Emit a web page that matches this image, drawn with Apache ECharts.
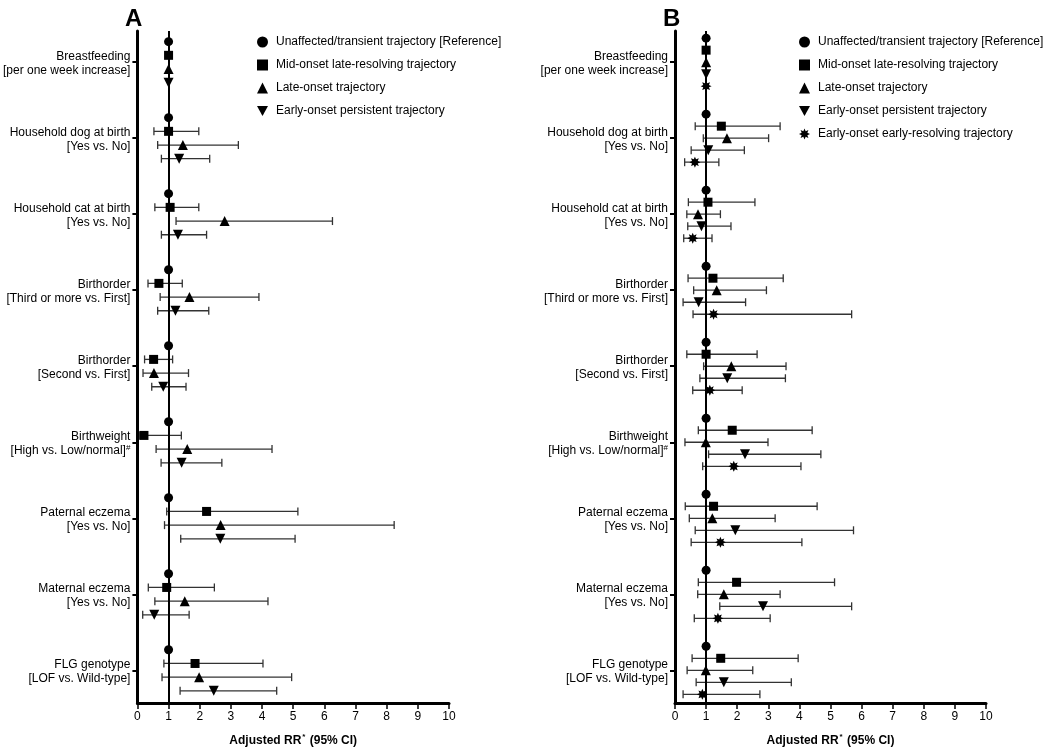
<!DOCTYPE html>
<html>
<head>
<meta charset="utf-8">
<script src="https://cdn.jsdelivr.net/npm/echarts@6/dist/echarts.min.js"></script>
<style>html,body{margin:0;padding:0;background:#fff}#main{width:1050px;height:752px}</style>
</head>
<body>
<div id="main"></div>
<script>
// exposure groups (top to bottom)
var groupTitle = ['Breastfeeding', 'Household dog at birth', 'Household cat at birth', 'Birthorder',
    'Birthorder', 'Birthweight', 'Paternal eczema', 'Maternal eczema', 'FLG genotype'];
var groupContrast = ['[per one week increase]', '[Yes vs. No]', '[Yes vs. No]', '[Third or more vs. First]',
    '[Second vs. First]', '[High vs. Low/normal]', '[Yes vs. No]', '[Yes vs. No]', '[LOF vs. Wild-type]'];
var groupNote = ['', '', '', '', '', '#', '', '', ''];
var xTicks = [0, 1, 2, 3, 4, 5, 6, 7, 8, 9, 10];

var refName = 'Unaffected/transient trajectory [Reference]';
var midName = 'Mid-onset late-resolving trajectory';
var lateName = 'Late-onset trajectory';
var persName = 'Early-onset persistent trajectory';
var resName = 'Early-onset early-resolving trajectory';

var refEst = [1, 1, 1, 1, 1, 1, 1, 1, 1];

// panel A
var aMidEst = [1.00, 1.00, 1.05, 0.69, 0.52, 0.21, 2.22, 0.94, 1.85];
var aMidLo  = [1.00, 0.53, 0.56, 0.34, 0.23, 0.08, 0.94, 0.35, 0.85];
var aMidHi  = [1.00, 1.97, 1.97, 1.44, 1.13, 1.41, 5.15, 2.47, 4.03];
var aLateEst = [1.00, 1.46, 2.80, 1.67, 0.53, 1.60, 2.67, 1.52, 1.98];
var aLateLo  = [1.00, 0.65, 1.24, 0.73, 0.18, 0.60, 0.87, 0.56, 0.79];
var aLateHi  = [1.00, 3.24, 6.26, 3.90, 1.64, 4.32, 8.24, 4.19, 4.95];
var aPersEst = [1.00, 1.34, 1.30, 1.22, 0.83, 1.42, 2.66, 0.54, 2.45];
var aPersLo  = [1.00, 0.77, 0.77, 0.65, 0.46, 0.76, 1.39, 0.17, 1.37];
var aPersHi  = [1.00, 2.32, 2.22, 2.29, 1.56, 2.71, 5.06, 1.66, 4.47];

// panel B
var bMidEst = [1.00, 1.49, 1.06, 1.22, 1.00, 1.84, 1.24, 1.98, 1.47];
var bMidLo  = [1.00, 0.65, 0.43, 0.42, 0.38, 0.75, 0.33, 0.75, 0.55];
var bMidHi  = [1.00, 3.38, 2.57, 3.48, 2.64, 4.41, 4.57, 5.13, 3.96];
var bLateEst = [1.00, 1.67, 0.74, 1.34, 1.81, 0.99, 1.20, 1.57, 0.99];
var bLateLo  = [1.00, 0.91, 0.38, 0.60, 0.92, 0.32, 0.46, 0.73, 0.39];
var bLateHi  = [1.00, 3.01, 1.46, 2.94, 3.57, 2.99, 3.22, 3.38, 2.50];
var bPersEst = [1.00, 1.07, 0.85, 0.76, 1.68, 2.25, 1.94, 2.83, 1.57];
var bPersLo  = [1.00, 0.52, 0.41, 0.26, 0.80, 1.08, 0.65, 1.44, 0.68];
var bPersHi  = [1.00, 2.23, 1.80, 2.27, 3.55, 4.69, 5.74, 5.68, 3.74];
var bResEst = [1.00, 0.64, 0.57, 1.24, 1.12, 1.89, 1.46, 1.38, 0.88];
var bResLo  = [1.00, 0.31, 0.28, 0.58, 0.57, 0.89, 0.52, 0.62, 0.26];
var bResHi  = [1.00, 1.41, 1.19, 5.68, 2.16, 4.05, 4.08, 3.06, 2.73];

// symbols
var downTri = 'path://M0,0L10,0L5,9Z';
function starPath(n, r1, r2) {
    var s = '';
    for (var i = 0; i < 2 * n; i++) {
        var r = i % 2 ? r2 : r1;
        var a = Math.PI * i / n - Math.PI / 2;
        s += (i ? 'L' : 'M') + (50 + r * Math.cos(a)).toFixed(1) + ',' + (50 + r * Math.sin(a)).toFixed(1);
    }
    return 'path://' + s + 'Z';
}
var star = starPath(8, 50, 28);

var myChart = echarts.init(document.getElementById('main'));

function panelSeries(p, defs, step) {
    var out = [];
    var n = defs.length;
    defs.forEach(function (d, row) {
        var pts = [], bars = [];
        for (var g = 0; g < d.est.length; g++) {
            var y = g + (row - (n - 1) / 2) * step;
            pts.push([d.est[g], y]);
            if (d.lo) bars.push([d.lo[g], d.hi[g], y]);
        }
        if (bars.length) {
            out.push({
                type: 'custom', name: d.name, xAxisIndex: p, yAxisIndex: p, z: 2,
                encode: {x: [0, 1], y: 2},
                itemStyle: {color: '#000'},
                renderItem: function (params, api) {
                    var lo = api.value(0), hi = api.value(1), y = api.value(2);
                    if (hi - lo < 0.02) return null;
                    var a = api.coord([lo, y]), b = api.coord([hi, y]);
                    var st = {stroke: '#333', lineWidth: 1.3};
                    return {type: 'group', children: [
                        {type: 'line', shape: {x1: a[0], y1: a[1], x2: b[0], y2: b[1]}, style: st},
                        {type: 'line', shape: {x1: a[0], y1: a[1] - 4, x2: a[0], y2: a[1] + 4}, style: st},
                        {type: 'line', shape: {x1: b[0], y1: b[1] - 4, x2: b[0], y2: b[1] + 4}, style: st}
                    ]};
                },
                data: bars
            });
        }
        var s = {
            type: 'scatter', name: d.name, xAxisIndex: p, yAxisIndex: p, z: 5,
            symbol: d.symbol, symbolSize: d.size,
            itemStyle: {color: '#000', opacity: 1},
            data: pts
        };
        if (row === 0) {
            s.markLine = {
                silent: true, symbol: ['none', 'none'], label: {show: false},
                lineStyle: {color: '#000', width: 2, type: 'solid'},
                data: [{xAxis: 1}]
            };
        }
        out.push(s);
    });
    return out;
}

var defsA = [
    {name: refName, symbol: 'circle', size: 9, est: refEst},
    {name: midName, symbol: 'rect', size: 9, est: aMidEst, lo: aMidLo, hi: aMidHi},
    {name: lateName, symbol: 'triangle', size: 10, est: aLateEst, lo: aLateLo, hi: aLateHi},
    {name: persName, symbol: downTri, size: 10, est: aPersEst, lo: aPersLo, hi: aPersHi}
];
var defsB = [
    {name: refName, symbol: 'circle', size: 9, est: refEst},
    {name: midName, symbol: 'rect', size: 9, est: bMidEst, lo: bMidLo, hi: bMidHi},
    {name: lateName, symbol: 'triangle', size: 10, est: bLateEst, lo: bLateLo, hi: bLateHi},
    {name: persName, symbol: downTri, size: 10, est: bPersEst, lo: bPersLo, hi: bPersHi},
    {name: resName, symbol: star, size: 11, est: bResEst, lo: bResLo, hi: bResHi}
];

function yAxisCfg(idx) {
    return {
        type: 'value', gridIndex: idx, inverse: true, min: -0.41, max: 8.43,
        axisLine: {show: true, onZero: false, lineStyle: {color: '#000', width: 3}},
        axisTick: {show: true, length: 5, lineStyle: {color: '#000', width: 2}, customValues: [0, 1, 2, 3, 4, 5, 6, 7, 8]},
        splitLine: {show: false},
        axisLabel: {
            customValues: [0, 1, 2, 3, 4, 5, 6, 7, 8],
            margin: 7, align: 'right', padding: [3, 0, 0, 0],
            formatter: function (v) {
                var g = Math.round(v);
                return '{n|' + groupTitle[g] + '}\n{n|' + groupContrast[g] + '}' +
                    (groupNote[g] ? '{s|' + groupNote[g] + '}' : '');
            },
            rich: {
                n: {fontSize: 12, lineHeight: 14, color: '#000'},
                s: {fontSize: 8, lineHeight: 14, color: '#000', verticalAlign: 'top', padding: [0, 0, 8, 0]}
            }
        }
    };
}
function xAxisCfg(idx) {
    return {
        type: 'value', gridIndex: idx, min: 0, max: 10, interval: 1,
        axisLine: {show: true, onZero: false, lineStyle: {color: '#000', width: 3}},
        axisTick: {show: true, length: 6, lineStyle: {color: '#000', width: 1.5}},
        splitLine: {show: false},
        axisLabel: {fontSize: 12, color: '#000', margin: 8,
            formatter: function (v) { return xTicks.indexOf(v) >= 0 ? String(v) : ''; }},
        name: '{a|Adjusted RR}{s|*}{a| (95% CI)}',
        nameLocation: 'middle', nameGap: 30,
        nameTextStyle: {
            rich: {
                a: {fontSize: 12, fontWeight: 'bold', color: '#000'},
                s: {fontSize: 8, fontWeight: 'bold', color: '#000', padding: [0, 1, 8, 1]}
            }
        }
    };
}

function legendItems(defs) {
    return defs.map(function (d) { return {name: d.name, icon: d.symbol}; });
}

var option = {
    animation: false,
    color: ['#000'],
    textStyle: {fontFamily: 'Liberation Sans, Arial, sans-serif'},
    title: [
        {text: 'A', left: 120, top: 2, textStyle: {fontSize: 24, fontWeight: 'bold', color: '#000'}},
        {text: 'B', left: 658, top: 2, textStyle: {fontSize: 24, fontWeight: 'bold', color: '#000'}}
    ],
    legend: [
        {left: 252, top: 31, orient: 'vertical', itemWidth: 11, itemHeight: 11, itemGap: 11,
            data: legendItems(defsA), textStyle: {fontSize: 12, color: '#000', padding: [0, 0, 0, 3]}},
        {left: 794, top: 31, orient: 'vertical', itemWidth: 11, itemHeight: 11, itemGap: 11,
            data: legendItems(defsB), textStyle: {fontSize: 12, color: '#000', padding: [0, 0, 0, 3]}}
    ],
    grid: [
        {left: 137, top: 31, width: 312, height: 672},
        {left: 675, top: 31, width: 311, height: 672}
    ],
    xAxis: [xAxisCfg(0), xAxisCfg(1)],
    yAxis: [yAxisCfg(0), yAxisCfg(1)],
    series: panelSeries(0, defsA, 0.18).concat(panelSeries(1, defsB, 0.158))
};

myChart.setOption(option);
</script>
</body>
</html>
